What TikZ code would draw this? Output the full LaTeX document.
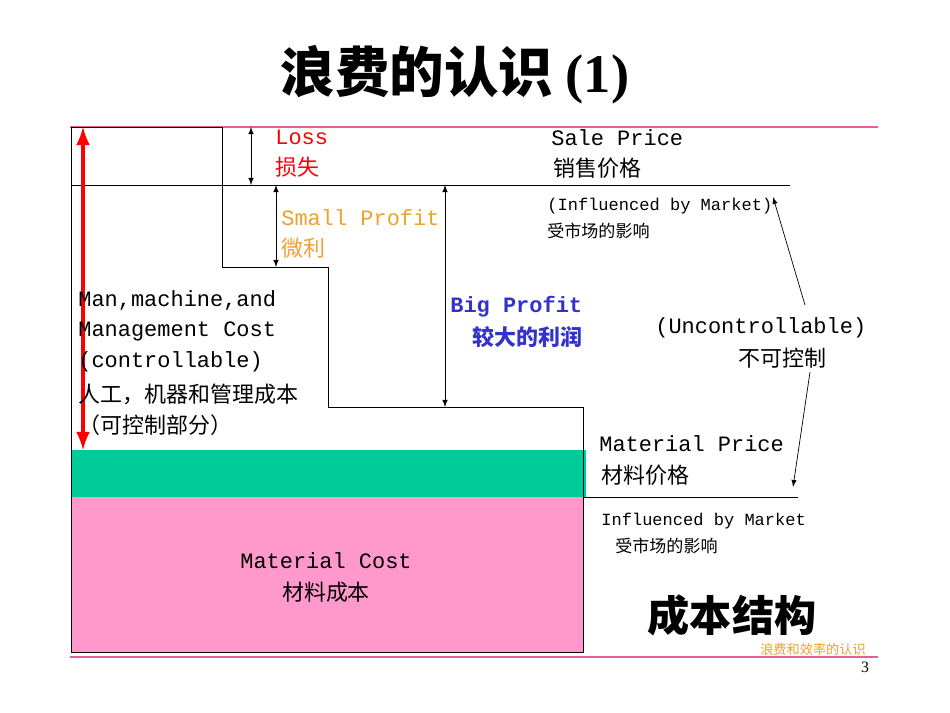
\documentclass[tikz,border=0pt]{standalone}
\usepackage{fontspec}
\setmainfont{Liberation Mono}
\newfontfamily\cjk{Noto Sans CJK SC}
\newfontfamily\serifb{Liberation Serif}
\usetikzlibrary{positioning}
\definecolor{linepink}{HTML}{E0609A}
\definecolor{costpink}{HTML}{FF99CC}
\definecolor{bandgreen}{HTML}{00CC99}
\definecolor{profitorange}{HTML}{F0A030}
\definecolor{profitblue}{HTML}{3333CC}
\tikzset{
  lbl/.style={anchor=west, inner sep=0pt, font=\fontsize{12.5}{14}\selectfont},
  lblsmall/.style={anchor=west, inner sep=0pt, font=\fontsize{9.7}{11}\selectfont},
  gap/.style={<->, >=latex, thin},
}
\begin{document}
\begin{tikzpicture}[x=0.02cm,y=-0.02cm]
	% ------------------------------------------------
	% Frame of the page
	\useasboundingbox (0,0) rectangle (950,713);
	
	% ------------------------------------------------
	% Title
	\node[inner sep=0pt] (Title) at (455,75)
		{\fontsize{31}{34}\selectfont\cjk\bfseries 浪费的认识 \serifb\bfseries(1)};
	
	% ----------------
	% Cost blocks
	\fill[costpink]   (71,497) rectangle (583,652);
	\fill[bandgreen]  (71,450) rectangle (586,497);
	
	\draw[linepink, thick] (70,127) -- (878,127);
	\draw[linepink, thick] (70,657) -- (878,657);
	
	\draw[thin] (71,127) -- (222,127) -- (222,267) -- (328,267) -- (328,407)
		-- (583,407) -- (583,652) -- (71,652) -- cycle;
	
	\coordinate (SaleL) at (71,185);
	\coordinate (SaleR) at (790,185);
	\draw[thin] (SaleL) -- (SaleR);
	\coordinate (MatL) at (583,497);
	\coordinate (MatR) at (798,497);
	\draw[thin] (MatL) -- (MatR);
	
	% ----------------
	% Gaps
	\coordinate (LossTop) at (251,127);
	\coordinate (LossBot) at (251,185);
	\coordinate (SmallTop) at (276,185);
	\coordinate (SmallBot) at (276,267);
	\coordinate (BigTop) at (445,185);
	\coordinate (BigBot) at (445,407);
	\draw[gap] (LossTop) -- (LossBot);
	\draw[gap] (SmallTop) -- (SmallBot);
	\draw[gap] (BigTop) -- (BigBot);
	
	\coordinate (CtrlTop) at (83,127);
	\coordinate (CtrlBot) at (83,450);
	\draw[red, line width=2.5pt, <->, >=latex] (CtrlTop) -- (CtrlBot);
	
	% ----------------
	% Labels
	\node[lbl, red] (Loss) at (275,137) {Loss};
	\node[lbl, red] (LossZh) at (275,167) {\cjk 损失};
	\node[lbl, profitorange] (Small) at (281,218) {Small Profit};
	\node[lbl, profitorange] (SmallZh) at (281,248) {\cjk 微利};
	\node[lbl, profitblue, font=\fontsize{12.5}{14}\selectfont\bfseries] (Big) at (450,307) {Big Profit};
	\node[lbl, profitblue] (BigZh) at (472,337) {\cjk\bfseries 较大的利润};
	
	\node[lbl] (Sale) at (551,138) {Sale Price};
	\node[lbl] (SaleZh) at (553,168) {\cjk 销售价格};
	\node[lblsmall] (InfA) at (547,206) {(Influenced by Market)};
	\node[lblsmall] (InfAZh) at (547,231) {\cjk 受市场的影响};
	
	\node[lbl] (Unc) at (655,328) {(Uncontrollable)};
	\node[lbl] (UncZh) at (738,358) {\cjk 不可控制};
	
	\node[lbl] (Mat) at (599,444) {Material Price};
	\node[lbl] (MatZh) at (601,475) {\cjk 材料价格};
	\node[lblsmall] (InfB) at (601,521) {Influenced by Market};
	\node[lblsmall] (InfBZh) at (615,546) {\cjk 受市场的影响};
	
	\node[lbl] (Man1) at (78,300) {Man,machine,and};
	\node[lbl] (Man2) at (78,331) {Management Cost};
	\node[lbl] (Man3) at (78,362) {(controllable)};
	\node[lbl] (Man4) at (78,394) {\cjk 人工，机器和管理成本};
	\node[lbl] (Man5) at (78,425) {\cjk （可控制部分）};
	
	\node[inner sep=0pt, font=\fontsize{12.5}{14}\selectfont] (MatCost) at (326,561) {Material Cost};
	\node[inner sep=0pt, font=\fontsize{12.5}{14}\selectfont] (MatCostZh) at (326,592) {\cjk 材料成本};
	
	\node[inner sep=0pt] (Struct) at (732,615) {\fontsize{24}{26}\selectfont\cjk\bfseries 成本结构};
	\node[inner sep=0pt, profitorange] (Foot) at (813,649) {\fontsize{7.5}{8}\selectfont\cjk 浪费和效率的认识};
	\node[inner sep=0pt] (Page) at (865,667) {\fontsize{9}{10}\selectfont\serifb 3};
	
	% ----------------
	% Pointers
	\coordinate (InfATip) at (773,197);
	\coordinate (InfBTip) at (793,487);
	\draw[->, >=latex, thin] (805,305) -- (InfATip);
	\draw[->, >=latex, thin] (810,372) -- (InfBTip);
	
\end{tikzpicture}
\end{document}
